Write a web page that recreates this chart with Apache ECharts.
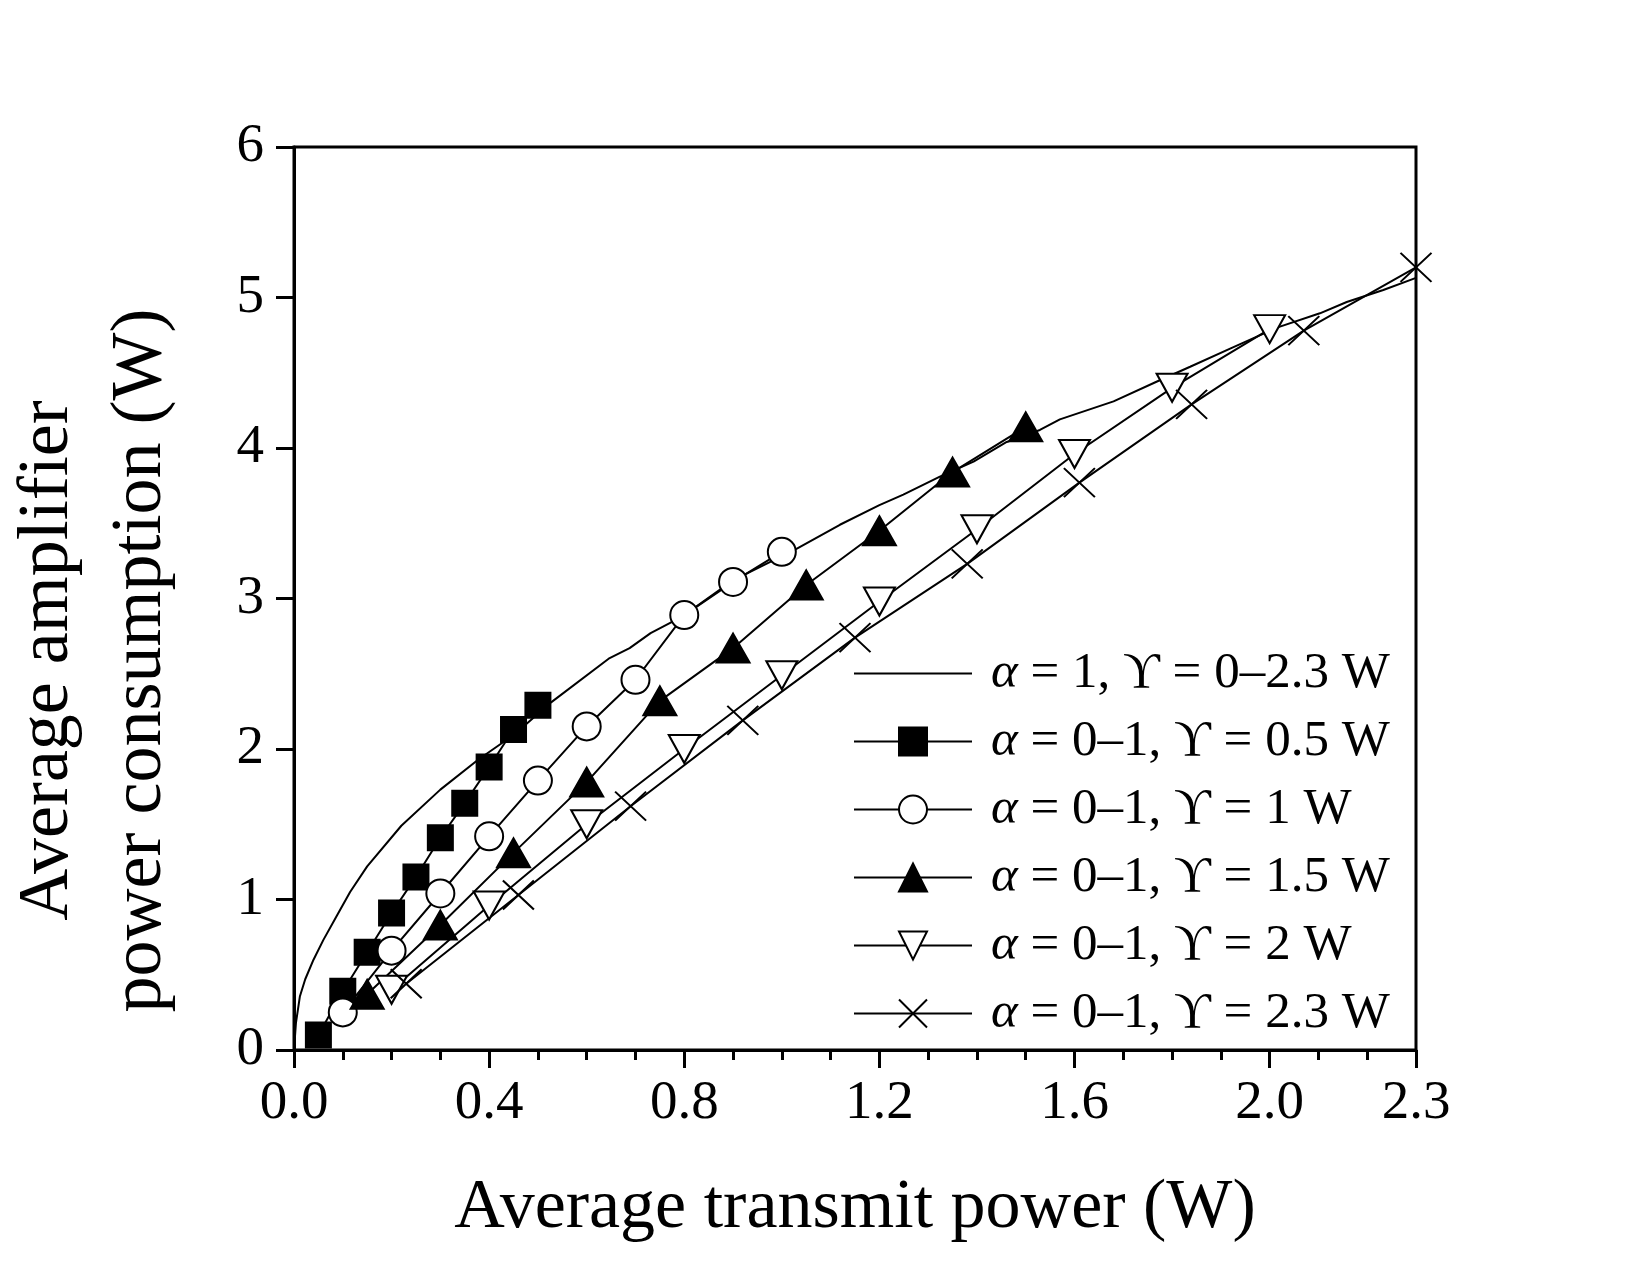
<!DOCTYPE html>
<html>
<head>
  <meta charset="utf-8">
  <script src="https://cdn.jsdelivr.net/npm/echarts@6/dist/echarts.min.js"></script>
  <style>
    html, body { margin: 0; padding: 0; background: #fff; }
  </style>
</head>
<body>
<div id="main" style="width: 1646px; height: 1261px"></div>
<script>
  // alpha = 1, gamma = 0-2.3 W (plain curve)
  const fullX = [0, 0.004, 0.012, 0.023, 0.04, 0.06, 0.0875, 0.115, 0.15, 0.22, 0.30, 0.378, 0.453, 0.527,
    0.645, 0.688, 0.731, 0.778, 0.80, 0.90, 1.03, 1.119, 1.20, 1.249, 1.324, 1.393, 1.461, 1.529, 1.57,
    1.68, 1.768, 1.837, 1.919, 2.015, 2.103, 2.158, 2.233, 2.30];
  const fullY = [0, 0.18, 0.355, 0.47, 0.60, 0.73, 0.89, 1.05, 1.22, 1.49, 1.73, 1.93, 2.10, 2.31,
    2.60, 2.67, 2.77, 2.85, 2.89, 3.12, 3.33, 3.49, 3.62, 3.69, 3.81, 3.91, 4.04, 4.12, 4.19,
    4.31, 4.44, 4.54, 4.66, 4.80, 4.895, 4.97, 5.05, 5.13];

  const g05X = [0.05, 0.10, 0.15, 0.20, 0.25, 0.30, 0.35, 0.40, 0.45, 0.50];
  const g05Y = [0.10, 0.39, 0.65, 0.91, 1.15, 1.41, 1.64, 1.88, 2.13, 2.29];

  const g1X = [0.1, 0.2, 0.3, 0.4, 0.5, 0.6, 0.7, 0.8, 0.9, 1.0];
  const g1Y = [0.25, 0.66, 1.04, 1.42, 1.79, 2.15, 2.46, 2.89, 3.11, 3.31];

  const g15X = [0.15, 0.30, 0.45, 0.60, 0.75, 0.90, 1.05, 1.20, 1.35, 1.50];
  const g15Y = [0.37, 0.83, 1.31, 1.78, 2.32, 2.67, 3.09, 3.45, 3.84, 4.14];

  const g2X = [0.2, 0.4, 0.6, 0.8, 1.0, 1.2, 1.4, 1.6, 1.8, 2.0];
  const g2Y = [0.40, 0.96, 1.50, 2.00, 2.49, 2.98, 3.46, 3.96, 4.40, 4.79];

  const g23X = [0.23, 0.46, 0.69, 0.92, 1.15, 1.38, 1.61, 1.84, 2.07, 2.30];
  const g23Y = [0.44, 1.03, 1.62, 2.19, 2.74, 3.23, 3.77, 4.29, 4.78, 5.20];

  const names = [
    'α = 1, ϒ = 0–2.3 W',
    'α = 0–1, ϒ = 0.5 W',
    'α = 0–1, ϒ = 1 W',
    'α = 0–1, ϒ = 1.5 W',
    'α = 0–1, ϒ = 2 W',
    'α = 0–1, ϒ = 2.3 W'
  ];

  const FONT = "'Liberation Serif', 'Times New Roman', serif";
  const zip = (xs, ys) => xs.map((x, i) => [x, ys[i]]);

  function markerSeries(name, xs, ys, symbol, size, fill) {
    return {
      name: name,
      type: 'line',
      data: zip(xs, ys),
      symbol: symbol,
      symbolSize: size,
      showAllSymbol: true,
      lineStyle: { color: '#000', width: 2 },
      itemStyle: { color: fill, borderColor: '#000', borderWidth: 2 },
      emphasis: { disabled: true },
      z: 3
    };
  }

  const myChart = echarts.init(document.getElementById('main'), null, { renderer: 'canvas' });
  myChart.setOption({
    animation: false,
    textStyle: { fontFamily: FONT, color: '#000' },
    grid: {
      left: 294, right: 230, top: 147, bottom: 211,
      containLabel: false,
      outerBoundsMode: 'none',
      show: true, borderColor: '#000', borderWidth: 3, backgroundColor: 'transparent'
    },
    legend: {
      orient: 'vertical',
      left: 848,
      top: 643,
      itemWidth: 118,
      itemHeight: 35,
      itemGap: 17,
      selectedMode: false,
      data: names,
      textStyle: {
        fontFamily: FONT, fontSize: 51, color: '#000', padding: [0, 0, 0, 14],
        rich: {
          i: { fontFamily: FONT, fontSize: 51, fontStyle: 'italic', color: '#000' },
          t: { fontFamily: FONT, fontSize: 51, color: '#000' }
        }
      },
      formatter: function (name) {
        return '{i|α}{t|' + name.slice(1) + '}';
      }
    },
    xAxis: [{
      type: 'value',
      min: 0, max: 2.3, interval: 0.4,
      position: 'bottom',
      name: 'Average transmit power (W)',
      nameLocation: 'middle',
      nameGap: 124,
      nameTextStyle: { fontFamily: FONT, fontSize: 70, color: '#000' },
      axisLine: { show: true, lineStyle: { color: '#000', width: 3 } },
      axisTick: { show: true, inside: false, length: 18, lineStyle: { color: '#000', width: 3 } },
      axisLabel: {
        fontFamily: FONT, fontSize: 55, color: '#000', margin: 26,
        formatter: v => v.toFixed(1)
      },
      splitLine: { show: false }
    }, {
      type: 'value',
      min: 0, max: 2.3, interval: 0.1,
      position: 'bottom',
      axisLine: { show: false },
      axisTick: { show: true, inside: false, length: 10, lineStyle: { color: '#000', width: 3 } },
      axisLabel: { show: false },
      splitLine: { show: false }
    }],
    yAxis: {
      type: 'value',
      min: 0, max: 6, interval: 1,
      name: 'Average amplifier\npower consumption (W)',
      nameLocation: 'middle',
      nameRotate: 90,
      nameGap: 106,
      nameTextStyle: {
        fontFamily: FONT, fontSize: 72, lineHeight: 93, color: '#000',
        padding: [0, 124, 0, 0]
      },
      axisLine: { show: true, lineStyle: { color: '#000', width: 3 } },
      axisTick: { show: true, inside: false, length: 18, lineStyle: { color: '#000', width: 3 } },
      axisLabel: { fontFamily: FONT, fontSize: 55, color: '#000', margin: 30 },
      splitLine: { show: false }
    },
    series: [
      {
        name: names[0],
        type: 'line',
        data: zip(fullX, fullY),
        symbol: 'none',
        lineStyle: { color: '#000', width: 2 },
        itemStyle: { color: '#000', opacity: 0 },
        emphasis: { disabled: true },
        z: 2
      },
      markerSeries(names[1], g05X, g05Y, 'rect', 25, '#000'),
      markerSeries(names[2], g1X, g1Y, 'circle', 28, '#fff'),
      markerSeries(names[3], g15X, g15Y, 'triangle', [33, 29], '#000'),
      markerSeries(names[4], g2X, g2Y, 'path://M0,0L10,0L5,9Z', [31, 28], '#fff'),
      markerSeries(names[5], g23X, g23Y, 'path://M0,0L10,9M10,0L0,9', [31, 29], 'none')
    ]
  });
</script>
</body>
</html>
